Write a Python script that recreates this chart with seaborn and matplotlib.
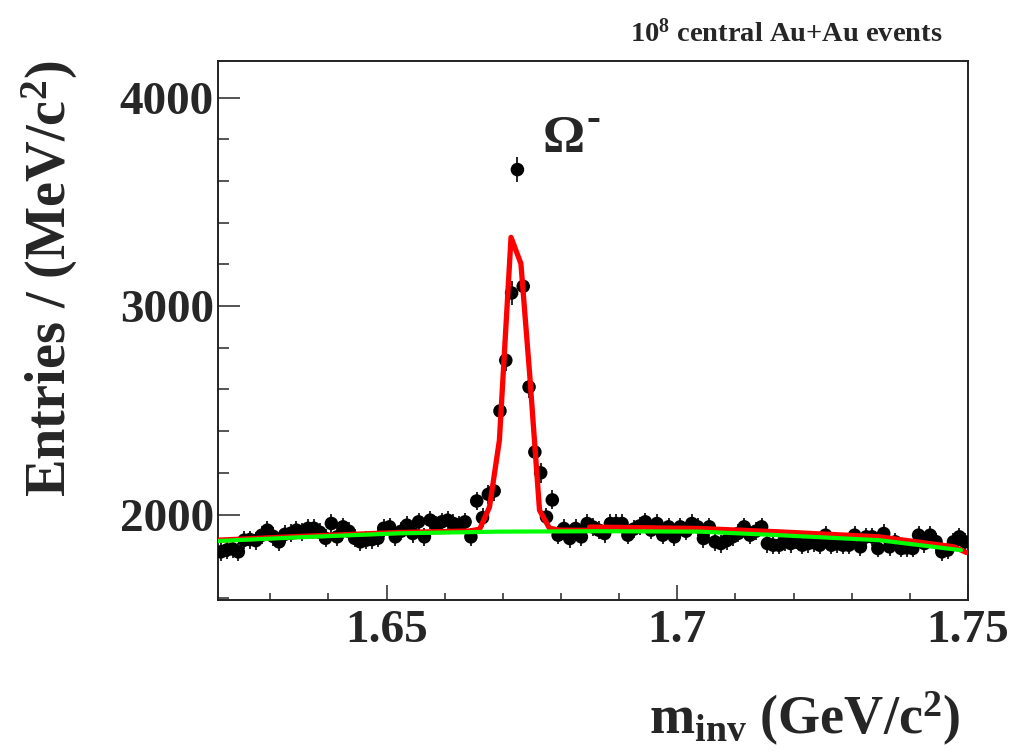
import numpy as np
import matplotlib
matplotlib.use("Agg")
import matplotlib.pyplot as plt
import seaborn as sns
from matplotlib.ticker import FixedLocator, MultipleLocator

# ---------------- data ----------------
counts = [1821, 1830, 1835, 1821, 1877, 1880, 1875, 1900, 1925, 1895,
          1869, 1905, 1910, 1925, 1915, 1934, 1934, 1915, 1886, 1957,
          1893, 1941, 1920, 1886, 1869, 1877, 1880, 1886, 1934, 1941,
          1893, 1920, 1949, 1909, 1965, 1893, 1973, 1950, 1965, 1973,
          1957, 1950, 1965, 1893, 2065, 1985, 2097, 2113, 2497, 2740,
          3063, 3655, 3095, 2612, 2300, 2200, 1988, 2070, 1901, 1933,
          1885, 1933, 1893, 1957, 1940, 1925, 1909, 1957, 1957, 1957,
          1901, 1930, 1945, 1965, 1925, 1957, 1901, 1941, 1893, 1941,
          1920, 1957, 1941, 1885, 1941, 1869, 1861, 1875, 1893, 1910,
          1941, 1901, 1920, 1941, 1861, 1853, 1853, 1870, 1861, 1877,
          1853, 1861, 1865, 1853, 1901, 1853, 1860, 1853, 1853, 1901,
          1845, 1893, 1893, 1837, 1909, 1845, 1869, 1837, 1840, 1837,
          1901, 1861, 1901, 1870, 1821, 1829, 1869, 1893, 1869]
bin_first_center = 1.6215
bin_width = 0.001

# background fit (green)
bkg_x = [1.6210, 1.6351, 1.6522, 1.6694, 1.6866, 1.7038, 1.7175, 1.7347, 1.7488]
bkg_y = [1873, 1891, 1910, 1918, 1920, 1918, 1901, 1877, 1829]

# signal + background fit (red), two drawn pieces
fit1_x = [1.6210, 1.6351, 1.6522, 1.6643, 1.6660, 1.6677, 1.6694, 1.6714,
          1.6731, 1.6746, 1.6763, 1.6780, 1.6797, 1.6849]
fit1_y = [1877, 1895, 1914, 1921, 1930, 2036, 2356, 3330,
          3204, 2676, 2021, 1935, 1925, 1924]
fit2_x = [1.6849, 1.7038, 1.7175, 1.7347, 1.7476, 1.7497]
fit2_y = [1940, 1933, 1917, 1893, 1845, 1818]

x_major = [1.65, 1.70, 1.75]
x_major_labels = ["1.65", "1.7", "1.75"]
y_major = [2000, 3000, 4000]
y_major_labels = ["2000", "3000", "4000"]

# ---------------- style ----------------
sns.set_style("ticks")
plt.rcParams['font.family'] = ['Liberation Serif', 'DejaVu Serif']
plt.rcParams['mathtext.fontset'] = 'custom'
plt.rcParams['mathtext.rm'] = 'Liberation Serif'
plt.rcParams['mathtext.it'] = 'Liberation Serif:italic'
plt.rcParams['mathtext.bf'] = 'Liberation Serif:bold'

W, H = 1019, 753
fig = plt.figure(figsize=(W / 100, H / 100), dpi=100)
L, R, T, B = 218, 968, 61, 600
ax = fig.add_axes([L / W, 1 - B / H, (R - L) / W, (B - T) / H])

mass = bin_first_center + bin_width * np.arange(len(counts))
cnt = np.array(counts, dtype=float)

ax.errorbar(mass, cnt, yerr=np.sqrt(cnt), fmt='none', ecolor='black',
            elinewidth=1.2, capsize=0, zorder=2)
sns.scatterplot(x=mass, y=cnt, color='black', s=95, edgecolor='none',
                linewidth=0, ax=ax, zorder=3, legend=False)

sns.lineplot(x=fit1_x, y=fit1_y, sort=False, estimator=None, color='#ff0000',
             linewidth=3.8, ax=ax, zorder=4)
sns.lineplot(x=fit2_x, y=fit2_y, sort=False, estimator=None, color='#ff0000',
             linewidth=3.8, ax=ax, zorder=4)
sns.lineplot(x=bkg_x, y=bkg_y, sort=False, estimator=None, color='#00ff00',
             linewidth=3.0, ax=ax, zorder=5)

ax.set_xlim(1.621, 1.75)
ax.set_ylim(1590, 4176)

ax.xaxis.set_major_locator(FixedLocator(x_major))
ax.set_xticklabels(x_major_labels)
ax.xaxis.set_minor_locator(MultipleLocator(0.01))
ax.yaxis.set_major_locator(FixedLocator(y_major))
ax.set_yticklabels(y_major_labels)
ax.yaxis.set_minor_locator(MultipleLocator(200))

ax.tick_params(axis='x', which='major', direction='in', length=10.8, width=1.1,
               labelsize=34, pad=7.3, top=False)
ax.tick_params(axis='x', which='minor', direction='in', length=5, width=1.1, top=False)
ax.tick_params(axis='y', which='major', direction='in', length=15.8, width=1.1,
               labelsize=34, pad=3, right=False)
ax.tick_params(axis='y', which='minor', direction='in', length=8, width=1.1, right=False)
for lab in ax.get_xticklabels() + ax.get_yticklabels():
    lab.set_fontweight('bold')

for s in ax.spines.values():
    s.set_linewidth(1.4)
    s.set_color('#222222')

ax.set_xlabel(r"m$_{\mathbf{inv}}$ (GeV/c$^{\mathbf{2}}$)", fontsize=39,
              fontweight='bold', loc='right')
ax.xaxis.set_label_coords((960 - L) / (R - L), -(690 - B) / (B - T))
ax.set_ylabel(r"Entries / (MeV/c$^{\mathbf{2}}$)", fontsize=40.5,
              fontweight='bold', loc='top')
ax.yaxis.set_label_coords((80 - L) / (R - L), 1.0)

ax.text(1.6768, 3740, "Ω", fontsize=38, fontweight='bold', ha='left',
        va='baseline', zorder=6)
ax.text(1.6768 + 0.0076, 3845, "-", fontsize=30, fontweight='bold', ha='left',
        va='baseline', zorder=6)

fig.text(943 / W, 1 - 42 / H, r"10$^{\mathbf{8}}$ central Au+Au events",
         ha='right', va='baseline', fontsize=20.5, fontweight='bold')

fig.savefig("out.png", dpi=100)
